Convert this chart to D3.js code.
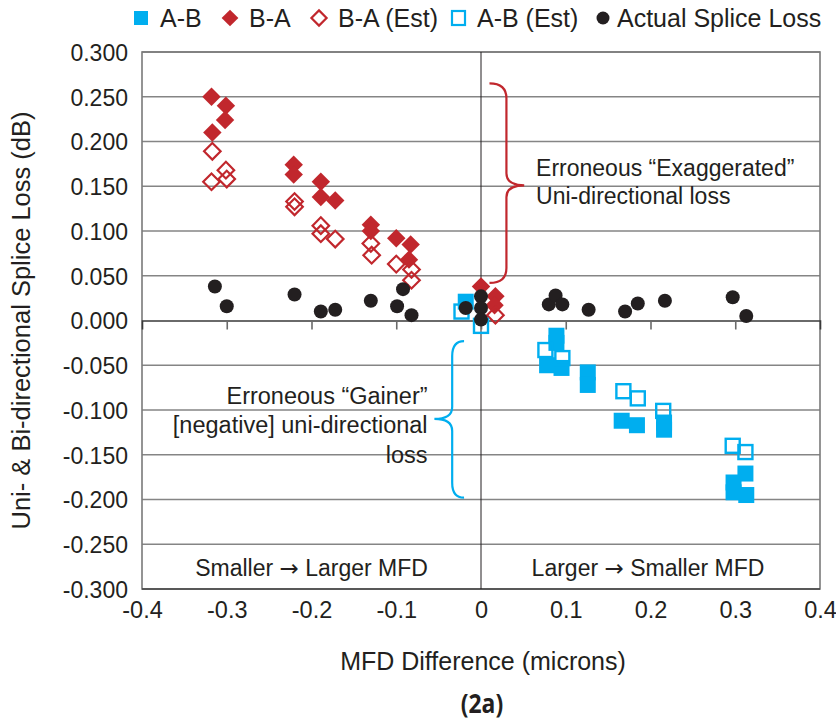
<!DOCTYPE html>
<html>
<head>
<meta charset="utf-8">
<script src="https://d3js.org/d3.v7.min.js"></script>
<style>
  body { margin: 0; background: #fff; }
  text { font-family: "Liberation Sans", Arial, sans-serif; fill: #231f20; }
</style>
</head>
<body>
<div id="chart"></div>
<script>
// Splice loss vs MFD difference (fig 2a)

// series: [MFD difference, loss dB]
const abMeasured = [
  [-0.018, 0.021], [0.089, -0.017], [0.089, -0.025], [0.078, -0.050], [0.095, -0.053],
  [0.126, -0.058], [0.126, -0.072], [0.166, -0.112], [0.184, -0.117], [0.216, -0.114],
  [0.216, -0.122], [0.312, -0.171], [0.298, -0.181], [0.298, -0.192], [0.313, -0.195]
];
const baMeasured = [
  [-0.318, 0.250], [-0.301, 0.240], [-0.302, 0.224], [-0.317, 0.210],
  [-0.221, 0.174], [-0.221, 0.163], [-0.189, 0.155], [-0.189, 0.138], [-0.172, 0.134],
  [-0.130, 0.107], [-0.130, 0.100], [-0.100, 0.092], [-0.083, 0.085], [-0.085, 0.068],
  [0.000, 0.038], [0.017, 0.027], [0.016, 0.017]
];
const baEstimated = [
  [-0.317, 0.189], [-0.301, 0.168], [-0.300, 0.158], [-0.318, 0.155],
  [-0.220, 0.133], [-0.220, 0.127], [-0.189, 0.106], [-0.189, 0.097], [-0.172, 0.091],
  [-0.130, 0.086], [-0.129, 0.073], [-0.100, 0.063], [-0.082, 0.057], [-0.082, 0.045],
  [0.017, 0.006]
];
const abEstimated = [
  [-0.023, 0.010], [0.000, -0.006], [0.076, -0.033], [0.096, -0.042], [0.168, -0.079],
  [0.185, -0.087], [0.215, -0.101], [0.297, -0.140], [0.312, -0.147]
];
const actualLoss = [
  [-0.314, 0.038], [-0.300, 0.016], [-0.220, 0.029], [-0.189, 0.010], [-0.172, 0.012],
  [-0.130, 0.022], [-0.092, 0.035], [-0.099, 0.016], [-0.082, 0.006], [-0.018, 0.014],
  [0.000, 0.027], [0.000, 0.014], [0.000, 0.001], [0.080, 0.018], [0.088, 0.028],
  [0.096, 0.018], [0.127, 0.012], [0.170, 0.010], [0.185, 0.019], [0.217, 0.022],
  [0.297, 0.026], [0.313, 0.005]
];

const xTicks = [-0.4, -0.3, -0.2, -0.1, 0, 0.1, 0.2, 0.3, 0.4];
const yTicks = [0.3, 0.25, 0.2, 0.15, 0.1, 0.05, 0, -0.05, -0.1, -0.15, -0.2, -0.25, -0.3];
const legendNames = ["A-B", "B-A", "B-A (Est)", "A-B (Est)", "Actual Splice Loss"];

const RED = "#c1272d", BLUE = "#00aeef", BLACK = "#231f20";

const width = 836, height = 719;
const svg = d3.select("#chart").append("svg")
  .attr("width", width).attr("height", height);

const x = d3.scaleLinear().domain([-0.4, 0.4]).range([142, 820]);
const y = d3.scaleLinear().domain([-0.3, 0.3]).range([589, 52]);

// plain hyphen for negatives, like the original
const fmt = d3.formatLocale({decimal: ".", thousands: ",", grouping: [3], currency: ["", ""], minus: "-"});

// horizontal grid
svg.append("g").selectAll("line")
  .data(yTicks.filter(d => d !== 0 && d !== -0.3))
  .join("line")
  .attr("x1", x(-0.4)).attr("x2", x(0.4))
  .attr("y1", d => y(d)).attr("y2", d => y(d))
  .attr("stroke", "#858585").attr("stroke-width", 1.6);

// frame
svg.append("rect")
  .attr("x", x(-0.4)).attr("y", y(0.3))
  .attr("width", x(0.4) - x(-0.4)).attr("height", y(-0.3) - y(0.3))
  .attr("fill", "none").attr("stroke", "#7a7a7a").attr("stroke-width", 1.6);
svg.append("line")
  .attr("x1", x(-0.4)).attr("x2", x(0.4)).attr("y1", y(-0.3)).attr("y2", y(-0.3))
  .attr("stroke", "#444").attr("stroke-width", 1.6);

// zero lines
svg.append("line")
  .attr("x1", x(0)).attr("x2", x(0)).attr("y1", y(0.3)).attr("y2", y(-0.3))
  .attr("stroke", BLACK).attr("stroke-width", 1);

const xAxisZero = d3.axisBottom(x).tickValues(xTicks.slice(1, -1)).tickSize(9).tickFormat("");
svg.append("g")
  .attr("transform", `translate(0,${y(0)})`)
  .call(xAxisZero)
  .call(g => g.select(".domain").attr("stroke", "#3a3a3a").attr("stroke-width", 1.6))
  .call(g => g.selectAll(".tick line").attr("stroke", "#6a6a6a").attr("stroke-width", 1.6));

// tick labels
const yAxis = d3.axisLeft(y).tickValues(yTicks).tickSize(0).tickPadding(14)
  .tickFormat(fmt.format(".3f"));
svg.append("g")
  .attr("transform", `translate(${x(-0.4)},0)`)
  .call(yAxis)
  .call(g => g.select(".domain").remove())
  .call(g => g.selectAll("text").attr("font-size", 23).attr("fill", BLACK)
    .attr("font-family", "Liberation Sans, Arial, sans-serif").attr("dy", "0.36em"));

const xAxis = d3.axisBottom(x).tickValues(xTicks).tickSize(0).tickPadding(12)
  .tickFormat(d => d === 0 ? "0" : fmt.format(".1f")(d));
svg.append("g")
  .attr("transform", `translate(0,${y(-0.3)})`)
  .call(xAxis)
  .call(g => g.select(".domain").remove())
  .call(g => g.selectAll("text").attr("font-size", 23.5).attr("fill", BLACK)
    .attr("font-family", "Liberation Sans, Arial, sans-serif"));

// axis titles
svg.append("text")
  .attr("x", (x(-0.4) + x(0.4)) / 2 + 2).attr("y", 670)
  .attr("text-anchor", "middle").attr("font-size", 25)
  .text("MFD Difference (microns)");
svg.append("text")
  .attr("transform", `translate(30,${y(0)}) rotate(-90)`)
  .attr("text-anchor", "middle").attr("font-size", 25.5)
  .text("Uni- & Bi-directional Splice Loss (dB)");
svg.append("text")
  .attr("x", (x(-0.4) + x(0.4)) / 2 + 1).attr("y", 713)
  .attr("text-anchor", "middle").attr("font-size", 26).attr("font-weight", "bold")
  .attr("transform", "translate(482,0) scale(0.88,1) translate(-482,0)")
  .style("font-family", "'Open Sans', sans-serif")
  .text("(2a)");

// region labels, with a larger arrow glyph
function regionLabel(cx, left, right) {
  const t = svg.append("text").attr("x", x(cx)).attr("y", y(-0.285))
    .attr("text-anchor", "middle").attr("font-size", 23);
  t.append("tspan").text(left + " ");
  t.append("tspan").style("font-family", "'DejaVu Sans', sans-serif").text("\u2192");
  t.append("tspan").text(" " + right);
}
regionLabel(-0.2, "Smaller", "Larger MFD");
regionLabel(0.197, "Larger", "Smaller MFD");

// curly braces
function brace(xEnd, xSpine, xTip, yTop, yMid, yBot) {
  const e = x(xEnd), s = x(xSpine), t = x(xTip);
  const a = y(yTop), m = y(yMid), b = y(yBot);
  return `M${e},${a} Q${s},${a} ${s},${a + 15} L${s},${m - 12} Q${s},${m} ${t},${m}` +
    ` Q${s},${m} ${s},${m + 12} L${s},${b - 15} Q${s},${b} ${e},${b}`;
}
svg.append("path").attr("d", brace(0.01, 0.03, 0.051, 0.265, 0.151, 0.042))
  .attr("fill", "none").attr("stroke", RED).attr("stroke-width", 2.2);
svg.append("path").attr("d", brace(-0.02, -0.034, -0.055, -0.023, -0.110, -0.198))
  .attr("fill", "none").attr("stroke", BLUE).attr("stroke-width", 2.2);

const redNote = ["Erroneous \u201cExaggerated\u201d", "Uni-directional loss"];
svg.append("g").selectAll("text").data(redNote).join("text")
  .attr("x", x(0.065)).attr("y", (d, i) => y(0.1616) + i * 28)
  .attr("font-size", 23).text(d => d);

const blueNote = ["Erroneous \u201cGainer\u201d", "[negative] uni-directional", "loss"];
svg.append("g").selectAll("text").data(blueNote).join("text")
  .attr("x", x(-0.063)).attr("y", (d, i) => y(-0.093) + i * 29.5)
  .attr("text-anchor", "end").attr("font-size", 23.5).text(d => d);

// markers
const diamond = d3.symbol().type(d3.symbolSquare).size(170)();
function plot(data, draw) {
  return svg.append("g").selectAll("g").data(data).join("g")
    .attr("transform", d => `translate(${x(d[0])},${y(d[1])})`)
    .call(draw);
}
plot(abMeasured, s => s.append("rect")
  .attr("x", -8).attr("y", -8).attr("width", 16).attr("height", 16).attr("fill", BLUE));
plot(baMeasured, s => s.append("path").attr("d", diamond)
  .attr("transform", "rotate(45)").attr("fill", RED));
plot(baEstimated, s => s.append("path").attr("d", diamond)
  .attr("transform", "rotate(45) scale(0.9)").attr("fill", "none")
  .attr("stroke", RED).attr("stroke-width", 2.4));
plot(abEstimated, s => s.append("rect")
  .attr("x", -7).attr("y", -7).attr("width", 14).attr("height", 14).attr("fill", "none")
  .attr("stroke", BLUE).attr("stroke-width", 2.4));
plot(actualLoss, s => s.append("circle").attr("r", 7).attr("fill", BLACK));

// legend
const legendX = [141, 230, 319, 458, 603];
const legend = svg.append("g").selectAll("g").data(legendNames).join("g")
  .attr("transform", (d, i) => `translate(${legendX[i]},18)`);
legend.each(function(d, i) {
  const g = d3.select(this);
  if (i === 0) g.append("rect").attr("x", -7).attr("y", -7).attr("width", 14).attr("height", 14).attr("fill", BLUE);
  if (i === 1) g.append("path").attr("d", d3.symbol().type(d3.symbolSquare).size(140)())
    .attr("transform", "rotate(45)").attr("fill", RED);
  if (i === 2) g.append("path").attr("d", d3.symbol().type(d3.symbolSquare).size(115)())
    .attr("transform", "rotate(45)").attr("fill", "none").attr("stroke", RED).attr("stroke-width", 2.2);
  if (i === 3) g.append("rect").attr("x", -6).attr("y", -7).attr("width", 13).attr("height", 14)
    .attr("fill", "none").attr("stroke", BLUE).attr("stroke-width", 2.2);
  if (i === 4) g.append("circle").attr("r", 6.5).attr("fill", BLACK);
  g.append("text").attr("x", i === 4 ? 14 : 19).attr("y", 9).attr("font-size", 25).text(d);
});
</script>
</body>
</html>
